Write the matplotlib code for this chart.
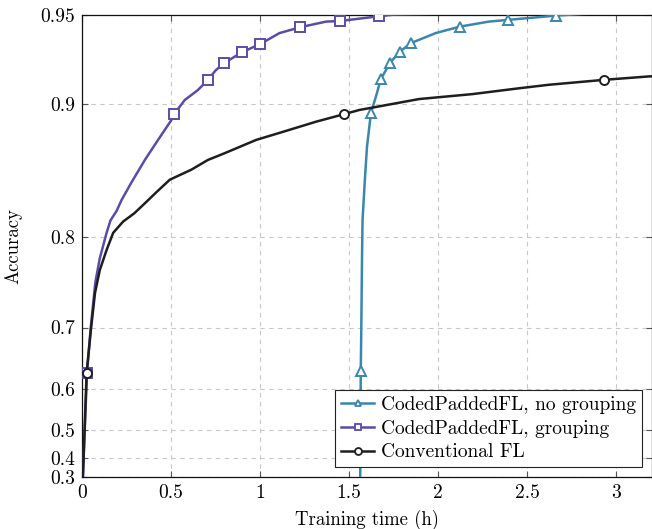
import numpy as np
import matplotlib
matplotlib.use("Agg")
import matplotlib.pyplot as plt
from matplotlib.lines import Line2D

plt.rcParams['font.family'] = 'serif'
plt.rcParams['font.serif'] = ['cmr10', 'DejaVu Serif']
plt.rcParams['mathtext.fontset'] = 'cm'
plt.rcParams['axes.formatter.use_mathtext'] = True

# training time (h) vs accuracy, one pair of arrays per scheme
t_nogroup = [1.562, 1.565, 1.568, 1.572, 1.575, 1.588, 1.600, 1.622, 1.650, 1.678,
             1.730, 1.784, 1.846, 1.986, 2.122, 2.284, 2.392, 2.663, 2.800, 3.200]
acc_nogroup = [0.30, 0.6335, 0.70, 0.78, 0.8154, 0.848, 0.872, 0.8942, 0.9045, 0.915,
               0.9244, 0.9305, 0.9352, 0.9406, 0.944, 0.9466, 0.9475, 0.9497, 0.9505, 0.952]
mark_nogroup = [1, 7, 9, 10, 11, 12, 14, 16, 17]

t_group = [0.005, 0.028, 0.049, 0.075, 0.100, 0.138, 0.160, 0.194, 0.222, 0.278,
           0.353, 0.427, 0.502, 0.517, 0.577, 0.651, 0.707, 0.750, 0.795, 0.898,
           1.002, 1.109, 1.226, 1.370, 1.448, 1.670, 1.750, 3.200]
acc_group = [0.30, 0.63, 0.70, 0.755, 0.78, 0.804, 0.815, 0.823, 0.832, 0.846,
             0.8626, 0.8766, 0.8898, 0.8936, 0.9024, 0.9085, 0.9145, 0.920, 0.924, 0.9302,
             0.9348, 0.9406, 0.9437, 0.9466, 0.9469, 0.9494, 0.9502, 0.953]
mark_group = [1, 13, 16, 18, 19, 20, 22, 24, 25]

t_conv = [0.005, 0.026, 0.050, 0.073, 0.100, 0.138, 0.175, 0.231, 0.293, 0.343,
          0.420, 0.493, 0.614, 0.707, 0.801, 0.978, 1.127, 1.314, 1.473, 1.557,
          1.631, 1.893, 2.191, 2.452, 2.620, 2.928, 3.180, 3.200]
acc_conv = [0.30, 0.63, 0.697, 0.743, 0.768, 0.788, 0.804, 0.814, 0.821, 0.828,
            0.8386, 0.848, 0.8555, 0.8626, 0.8674, 0.8766, 0.882, 0.8887, 0.8936, 0.8962,
            0.8977, 0.903, 0.906, 0.9095, 0.9116, 0.9145, 0.9165, 0.9166]
mark_conv = [1, 18, 25]

labels = ['CodedPaddedFL, no grouping', 'CodedPaddedFL, grouping', 'Conventional FL']
colors = ['#3a87ad', '#5b4ca6', '#1e1e1e']
markers = ['^', 's', 'o']

x_ticks = [0, 0.5, 1, 1.5, 2, 2.5, 3]
x_ticklabels = ['0', '0.5', '1', '1.5', '2', '2.5', '3']
y_ticks = [0.3, 0.4, 0.5, 0.6, 0.7, 0.8, 0.9, 0.95]
y_ticklabels = ['0.3', '0.4', '0.5', '0.6', '0.7', '0.8', '0.9', '0.95']

K = 3.9


def fwd(a):
    return np.exp(K * np.asarray(a))


def inv(v):
    v = np.clip(np.asarray(v, dtype=float), 1e-9, None)
    return np.log(v) / K


fig = plt.figure(figsize=(6.52, 5.29), dpi=100)
ax = fig.add_axes([82 / 652, 52 / 529, 570 / 652, 462 / 529])
ax.set_yscale('function', functions=(fwd, inv))

series = [(t_nogroup, acc_nogroup, mark_nogroup),
          (t_group, acc_group, mark_group),
          (t_conv, acc_conv, mark_conv)]
for (t, a, me), c, m in zip(series, colors, markers):
    ms = 7 if m == '^' else 6.5
    ax.plot(t, a, color=c, lw=1.8, marker=m, markevery=me, ms=ms,
            mfc='white', mec=c, mew=1.4, zorder=3)

ax.set_xlim(0, 3.2)
ax.set_ylim(0.3, 0.95)
ax.set_xticks(x_ticks)
ax.set_xticklabels(x_ticklabels)
ax.set_yticks(y_ticks)
ax.set_yticklabels(y_ticklabels)
ax.minorticks_off()
ax.tick_params(direction='in', length=4, width=0.8, color='#555555',
               top=True, right=True, labelsize=14, pad=5)
ax.grid(True, color='#c8c8c8', lw=0.8, ls=(0, (4, 4)))
for s in ax.spines.values():
    s.set_linewidth(0.9)
    s.set_color('#111111')

ax.set_xlabel('Training time (h)', fontsize=13.5, labelpad=6)
ax.set_ylabel('Accuracy', fontsize=13.5, labelpad=13)

handles = [Line2D([], [], color=c, lw=1.8, marker=m, ms=5, mfc='white', mec=c, mew=1.3)
           for c, m in zip(colors, markers)]
leg = ax.legend(handles, labels, loc='lower right', bbox_to_anchor=(0.982, 0.021),
                borderaxespad=0, fontsize=14, frameon=True, fancybox=False,
                framealpha=1, edgecolor='#222222', handlelength=1.7,
                handletextpad=0.35, labelspacing=0.3, borderpad=0.3)
leg.get_frame().set_linewidth(0.8)
leg.set_zorder(5)

fig.savefig('out.png', dpi=100)
